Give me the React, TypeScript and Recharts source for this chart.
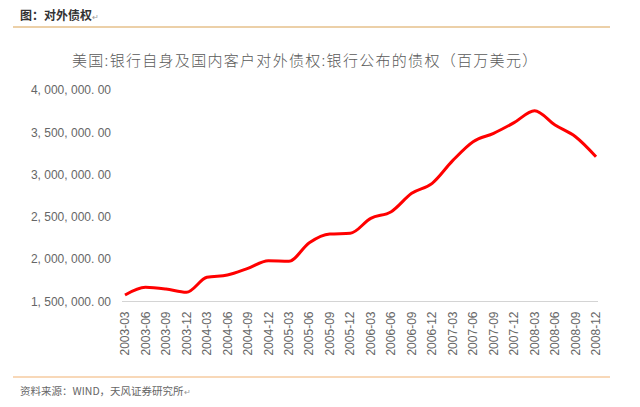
import React from 'react';
import { LineChart, Line, XAxis, YAxis } from 'recharts';

const quarters = [
  '2003-03', '2003-06', '2003-09', '2003-12',
  '2004-03', '2004-06', '2004-09', '2004-12',
  '2005-03', '2005-06', '2005-09', '2005-12',
  '2006-03', '2006-06', '2006-09', '2006-12',
  '2007-03', '2007-06', '2007-09', '2007-12',
  '2008-03', '2008-06', '2008-09', '2008-12',
];

// 银行公布的债权（百万美元）
const claims = [
  1577000, 1668000, 1648000, 1609000,
  1786000, 1813000, 1892000, 1982000,
  1975000, 2195000, 2298000, 2306000,
  2483000, 2562000, 2779000, 2897000,
  3165000, 3389000, 3488000, 3614000,
  3755000, 3586000, 3448000, 3212000,
];

const yTicks = [1500000, 2000000, 2500000, 3000000, 3500000, 4000000];

const data = quarters.map((q, i) => ({ quarter: q, claims: claims[i] }));

const fmtY = (v: number) =>
  v.toLocaleString('en-US', { minimumFractionDigits: 2, maximumFractionDigits: 2 })
    .replace(/,/g, ', ')
    .replace('.', '. ');

const QuarterTick = (props: any) => {
  const { x, y, payload } = props;
  return (
    <text
      x={x}
      y={y}
      transform={`rotate(-90, ${x}, ${y})`}
      textAnchor="end"
      dy="0.35em"
      fill="#666"
      fontSize={12}
      fontFamily="Liberation Sans, Arial, sans-serif"
    >
      {payload.value}
    </text>
  );
};

const cjk = '"Noto Sans CJK SC", sans-serif';

export default function App() {
  return (
    <div style={{ position: 'absolute', left: 0, top: 0, width: 640, height: 407, background: '#fff' }}>
      <div style={{ position: 'absolute', left: 20, top: 6, fontSize: 12, fontWeight: 'bold', color: '#333', fontFamily: cjk, lineHeight: '18px' }}>
        图：对外债权<span style={{ fontSize: 8, fontWeight: 'normal', color: '#999' }}>↵</span>
      </div>
      <div style={{ position: 'absolute', left: 13, top: 26, width: 597, height: 2, background: '#ecd0a8' }} />

      <div style={{ position: 'absolute', left: 72, top: 49, fontSize: 15, fontWeight: 300, letterSpacing: 1.3, color: '#5a5a5a', fontFamily: cjk, lineHeight: '22px', whiteSpace: 'nowrap' }}>
        美国:银行自身及国内客户对外债权:银行公布的债权（百万美元）
      </div>

      <div style={{ position: 'absolute', left: 0, top: 0 }}>
        <LineChart width={640} height={407} data={data} margin={{ top: 90, right: 42, left: 0, bottom: 45.5 }}>
          <XAxis
            dataKey="quarter"
            interval={0}
            height={60}
            padding={{ left: 3, right: 2 }}
            axisLine={{ stroke: '#d4d4d4', strokeWidth: 1 }}
            tickLine={false}
            tickSize={0}
            tickMargin={10}
            tick={<QuarterTick />}
          />
          <YAxis
            domain={[1500000, 4000000]}
            ticks={yTicks}
            width={122}
            axisLine={false}
            tickLine={false}
            tickSize={0}
            tickMargin={11}
            tickFormatter={fmtY}
            tick={{ fill: '#666', fontSize: 12, fontFamily: 'Liberation Sans, Arial, sans-serif' }}
          />
          <Line
            type="monotone"
            dataKey="claims"
            stroke="#ff0000"
            strokeWidth={3}
            dot={false}
            isAnimationActive={false}
          />
        </LineChart>
      </div>

      <div style={{ position: 'absolute', left: 13, top: 376, width: 597, height: 2, background: '#f8d8b8' }} />
      <div style={{ position: 'absolute', left: 20, top: 383, fontSize: 10.5, color: '#666', fontFamily: cjk, lineHeight: '16px', whiteSpace: 'nowrap' }}>
        资料来源：WIND，天风证券研究所<span style={{ fontSize: 8, color: '#999' }}>↵</span>
      </div>
    </div>
  );
}
